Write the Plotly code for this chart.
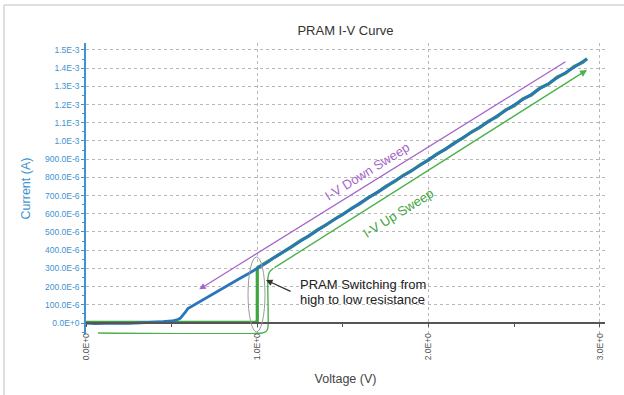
import plotly.graph_objects as go

# ---------------- data ----------------
# Down sweep (measured from high voltage back to zero), volts / amps
DOWN_V = [2.925, 2.90, 2.85, 2.80, 2.75, 2.70, 2.65, 2.60, 2.55, 2.50, 2.45, 2.40,
          2.35, 2.30, 2.25, 2.20, 2.15, 2.10, 2.05, 2.00, 1.95, 1.90, 1.85, 1.80,
          1.75, 1.70, 1.65, 1.60, 1.55, 1.50, 1.45, 1.40, 1.35, 1.30, 1.25, 1.20,
          1.15, 1.10, 1.05, 1.00, 0.95, 0.90, 0.85, 0.80, 0.75, 0.70, 0.65, 0.61,
          0.595, 0.58, 0.565, 0.55, 0.53, 0.50, 0.45, 0.40, 0.35, 0.30, 0.25, 0.20,
          0.15, 0.10, 0.05, 0.00]
DOWN_I = [1.450e-3, 1.434e-3, 1.407e-3, 1.375e-3, 1.347e-3, 1.315e-3, 1.288e-3,
          1.255e-3, 1.228e-3, 1.196e-3, 1.168e-3, 1.137e-3, 1.106e-3, 1.078e-3,
          1.046e-3, 1.018e-3, 0.986e-3, 0.958e-3, 0.926e-3, 0.898e-3, 0.866e-3,
          0.838e-3, 0.806e-3, 0.779e-3, 0.747e-3, 0.719e-3, 0.687e-3, 0.659e-3,
          0.627e-3, 0.599e-3, 0.567e-3, 0.539e-3, 0.508e-3, 0.479e-3, 0.448e-3,
          0.420e-3, 0.388e-3, 0.360e-3, 0.328e-3, 0.299e-3, 0.272e-3, 0.246e-3,
          0.219e-3, 0.194e-3, 0.167e-3, 0.141e-3, 0.114e-3, 0.092e-3, 0.080e-3,
          0.060e-3, 0.040e-3, 0.026e-3, 0.017e-3, 0.011e-3, 0.007e-3, 0.004e-3,
          0.002e-3, 0.001e-3, -0.002e-3, -0.001e-3, -0.003e-3, -0.002e-3,
          -0.003e-3, -0.001e-3]

# Up sweep: flat at high resistance, switches at 1.0 V, then ohmic branch
UP_V = [0.00, 0.10, 0.20, 0.30, 0.40, 0.50, 0.60, 0.70, 0.80, 0.90, 1.00, 1.00,
        1.05, 1.10, 1.15, 1.20, 1.25, 1.30, 1.35, 1.40, 1.45, 1.50, 1.55, 1.60,
        1.65, 1.70, 1.75, 1.80, 1.85, 1.90, 1.95, 2.00, 2.05, 2.10, 2.15, 2.20,
        2.25, 2.30, 2.35, 2.40, 2.45, 2.50, 2.55, 2.60, 2.65, 2.70, 2.75, 2.80,
        2.85, 2.90, 2.925]
UP_I = [0.004e-3, 0.004e-3, 0.005e-3, 0.004e-3, 0.005e-3, 0.005e-3, 0.004e-3,
        0.005e-3, 0.005e-3, 0.004e-3, 0.005e-3, 0.303e-3, 0.331e-3, 0.358e-3,
        0.391e-3, 0.418e-3, 0.451e-3, 0.477e-3, 0.511e-3, 0.537e-3, 0.570e-3,
        0.597e-3, 0.630e-3, 0.656e-3, 0.690e-3, 0.716e-3, 0.750e-3, 0.776e-3,
        0.809e-3, 0.835e-3, 0.869e-3, 0.895e-3, 0.929e-3, 0.955e-3, 0.989e-3,
        1.015e-3, 1.049e-3, 1.075e-3, 1.109e-3, 1.134e-3, 1.171e-3, 1.193e-3,
        1.231e-3, 1.252e-3, 1.291e-3, 1.312e-3, 1.350e-3, 1.372e-3, 1.410e-3,
        1.431e-3, 1.452e-3]

X_TICK_VALS = [0, 1, 2, 3]
X_TICK_TEXT = ["0.0E+0", "1.0E+0", "2.0E+0", "3.0E+0"]
Y_TICK_VALS = [0, 100e-6, 200e-6, 300e-6, 400e-6, 500e-6, 600e-6, 700e-6, 800e-6,
               900e-6, 1.0e-3, 1.1e-3, 1.2e-3, 1.3e-3, 1.4e-3, 1.5e-3]
Y_TICK_TEXT = ["0.0E+0", "100.0E-6", "200.0E-6", "300.0E-6", "400.0E-6", "500.0E-6",
               "600.0E-6", "700.0E-6", "800.0E-6", "900.0E-6", "1.0E-3", "1.1E-3",
               "1.2E-3", "1.3E-3", "1.4E-3", "1.5E-3"]

# ---------------- styling ----------------
FONT = "Liberation Sans, Arial, Helvetica, sans-serif"
BLUE = "#2a76b9"
AXIS_BLUE = "#3f93d0"
GREEN = "#3ea63e"
GUIDE_GREEN = "#4cb24c"
PURPLE = "#a566c8"
GRID = "#b8b8b8"

fig = go.Figure()

# guide path for the up-sweep arrow (flat segment and bend)
fig.add_trace(go.Scatter(
    x=[0.070, 1.027, 1.051, 1.062, 1.062, 1.071, 1.092],
    y=[-0.055e-3, -0.055e-3, -0.047e-3, -0.027e-3, 0.247e-3, 0.280e-3, 0.299e-3],
    mode="lines", line=dict(color=GUIDE_GREEN, width=1.4, shape="spline", smoothing=0.6),
    hoverinfo="skip", showlegend=False))

fig.add_trace(go.Scatter(x=UP_V, y=UP_I, mode="lines",
                         line=dict(color=GREEN, width=3.2), showlegend=False))
fig.add_trace(go.Scatter(x=DOWN_V, y=DOWN_I, mode="lines",
                         line=dict(color=BLUE, width=2.8), showlegend=False))

annotations = [
    # down-sweep arrow
    dict(x=0.661, y=0.185e-3, ax=2.808, ay=1.440e-3, xref="x", yref="y",
         axref="x", ayref="y", text="", showarrow=True, arrowhead=2,
         arrowsize=1, arrowwidth=1.3, arrowcolor=PURPLE),
    # up-sweep arrow (diagonal part)
    dict(x=2.925, y=1.390e-3, ax=1.092, ay=0.299e-3, xref="x", yref="y",
         axref="x", ayref="y", text="", showarrow=True, arrowhead=2,
         arrowsize=1, arrowwidth=1.4, arrowcolor=GUIDE_GREEN),
    dict(x=1.643, y=0.830e-3, xref="x", yref="y", text="I-V Down Sweep",
         showarrow=False, textangle=-32,
         font=dict(family=FONT, size=13, color=PURPLE)),
    dict(x=1.819, y=0.604e-3, xref="x", yref="y", text="I-V Up Sweep",
         showarrow=False, textangle=-32,
         font=dict(family=FONT, size=13, color=GREEN)),
    # switching callout
    dict(x=1.051, y=0.236e-3, ax=1.203, ay=0.170e-3, xref="x", yref="y",
         axref="x", ayref="y", text="", showarrow=True, arrowhead=2,
         arrowsize=1, arrowwidth=1.3, arrowcolor="#333333"),
    dict(x=1.238, y=0.2088e-3, xref="x", yref="y", text="PRAM Switching from",
         showarrow=False, xanchor="left", yanchor="middle",
         font=dict(family=FONT, size=13, color="#222222")),
    dict(x=1.238, y=0.1264e-3, xref="x", yref="y", text="high to low resistance",
         showarrow=False, xanchor="left", yanchor="middle",
         font=dict(family=FONT, size=13, color="#222222")),
]

shapes = [
    # ellipse around the switching event
    dict(type="circle", xref="x", yref="y", x0=0.946, x1=1.045,
         y0=-0.049e-3, y1=0.363e-3, line=dict(color="#9a9a9a", width=1)),
    # page frame (top and left edges)
    dict(type="line", xref="paper", yref="paper", x0=-0.158, x1=1.05,
         y0=1.1306, y1=1.1306, line=dict(color="#d4d4d4", width=1.5)),
    dict(type="line", xref="paper", yref="paper", x0=-0.158, x1=-0.158,
         y0=1.1306, y1=-0.22, line=dict(color="#d4d4d4", width=1.5)),
]

fig.update_layout(
    width=624, height=395,
    margin=dict(l=86, r=19, t=43, b=61),
    paper_bgcolor="white", plot_bgcolor="white",
    font=dict(family=FONT),
    title=dict(text="PRAM I-V Curve", x=0.5, xref="paper", xanchor="center",
               y=1 - 30 / 395, yanchor="middle",
               font=dict(family=FONT, size=13, color="#333333")),
    annotations=annotations,
    shapes=shapes,
    showlegend=False,
)

fig.update_xaxes(
    range=[0, 3.03],
    tickmode="array", tickvals=X_TICK_VALS, ticktext=X_TICK_TEXT, tickangle=-90,
    tickfont=dict(family=FONT, size=8.5, color="#555555"),
    ticks="outside", ticklen=3, tickcolor="#555555", ticklabelstandoff=3,
    minor=dict(tickmode="linear", tick0=0, dtick=0.5, ticks="outside",
               ticklen=3, tickcolor="#555555", showgrid=False),
    showgrid=True, gridcolor=GRID, griddash="dot", gridwidth=1,
    showline=True, linecolor="#555555", linewidth=1.5,
    zeroline=False,
    anchor="free", position=11 / 291,
    title=dict(text="Voltage (V)", standoff=14,
               font=dict(family=FONT, size=12.5, color="#444444")),
)

fig.update_yaxes(
    range=[-0.0604e-3, 1.538e-3],
    tickmode="array", tickvals=Y_TICK_VALS, ticktext=Y_TICK_TEXT,
    tickfont=dict(family=FONT, size=8.5, color=AXIS_BLUE),
    ticks="outside", ticklen=3, tickcolor=AXIS_BLUE,
    minor=dict(tickmode="linear", tick0=0, dtick=50e-6, ticks="outside",
               ticklen=2, tickcolor=AXIS_BLUE, showgrid=False),
    showgrid=True, gridcolor=GRID, griddash="dot", gridwidth=1,
    showline=True, linecolor=AXIS_BLUE, linewidth=1.5,
    zeroline=False,
    title=dict(text="Current (A)", standoff=12,
               font=dict(family=FONT, size=12.5, color=AXIS_BLUE)),
)

fig.write_html("out.html")
